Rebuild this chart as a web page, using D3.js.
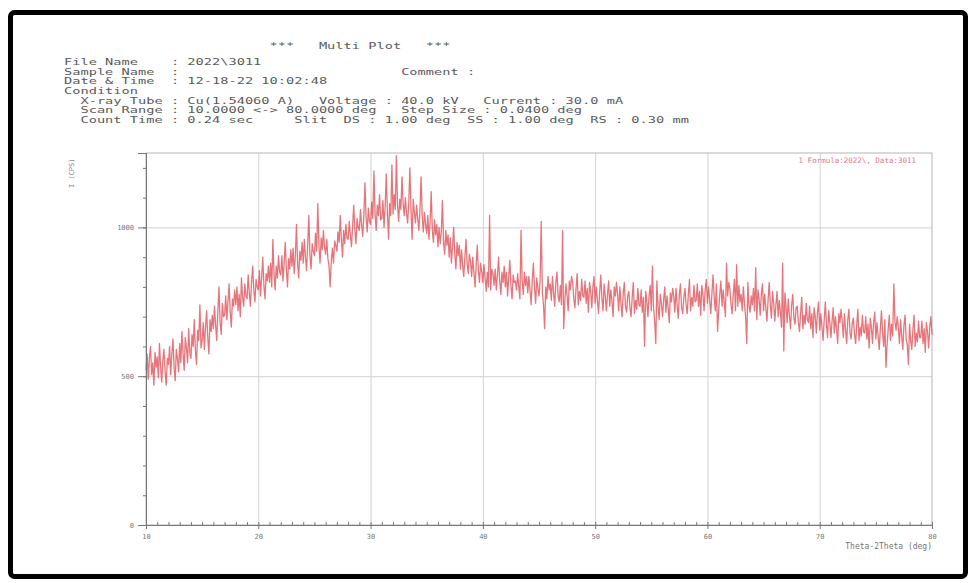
<!DOCTYPE html>
<html>
<head>
<meta charset="utf-8">
<script src="https://cdn.jsdelivr.net/npm/d3@7"></script>
<style>
  body { margin: 0; background: #fff; }
  .hdr { font-family: "DejaVu Sans Mono", "Liberation Mono", monospace; font-size: 8px; fill: #5a5a5a; white-space: pre; }
  .grid line { stroke: #d2d2d2; stroke-width: 1; }
  .grid path { stroke: none; }
  .axis path, .axis line { stroke: #777; }
  .axis text { font-family: "DejaVu Sans Mono", monospace; font-size: 7px; fill: #777; }
</style>
</head>
<body>
<div id="main_plot"></div>
<script>

// scan settings (deg)
var scanStart = 10, scanStep = 0.1;

// intensity (cps), 0.1 deg apart, one row per degree
var counts = [
  520, 575, 490, 560, 600, 505, 545, 470, 580, 530,   // 10
  565, 495, 610, 530, 480, 555, 590, 515, 470, 560,   // 11
  540, 600, 505, 575, 625, 530, 485, 590, 560, 515,   // 12
  610, 545, 650, 575, 520, 630, 595, 545, 660, 580,   // 13
  560, 640, 600, 690, 585, 540, 655, 620, 740, 595,   // 14
  620, 680, 590, 665, 720, 630, 575, 690, 650, 705,   // 15
  660, 735, 670, 620, 720, 800, 680, 640, 745, 700,   // 16
  705, 770, 690, 750, 810, 715, 665, 760, 735, 790,   // 17
  740, 800, 720, 775, 700, 830, 765, 735, 810, 770,   // 18
  760, 840, 780, 735, 815, 870, 790, 750, 825, 800,   // 19
  790, 855, 770, 830, 900, 805, 760, 845, 820, 870,   // 20
  815, 880, 800, 960, 845, 790, 870, 830, 905, 850,   // 21
  840, 905, 820, 880, 950, 860, 800, 895, 860, 925,   // 22
  870, 930, 845, 905, 1010, 880, 830, 920, 890, 950,  // 23
  880, 960, 900, 855, 940, 1040, 905, 860, 945, 920,  // 24
  905, 980, 920, 1080, 940, 880, 965, 925, 990, 935,  // 25
  910, 960, 895, 870, 800, 885, 930, 880, 955, 940,   // 26
  920, 985, 950, 1040, 960, 900, 990, 945, 1010, 965, // 27
  960, 1020, 975, 935, 1005, 1075, 990, 945, 1030, 1000, // 28
  990, 1060, 1010, 970, 1040, 1150, 1030, 985, 1065, 1020, // 29
  1010, 1085, 1030, 1190, 1045, 990, 1075, 1040, 1110, 1025, // 30
  1030, 1090, 1000, 1070, 1180, 1050, 960, 1080, 1040, 1210, // 31
  1045, 1110, 1060, 1240, 1075, 1020, 1095, 1060, 1170, 1080, // 32
  1040, 1100, 1050, 1015, 1080, 1200, 1060, 960, 1095, 1050,  // 33
  1015, 1075, 1030, 990, 1060, 1170, 1035, 985, 1050, 1010,   // 34
  980, 1040, 960, 1020, 1120, 990, 950, 1025, 975, 1010,      // 35
  935, 1000, 945, 985, 1090, 950, 910, 990, 940, 975,         // 36
  900, 965, 880, 935, 1000, 910, 860, 950, 905, 940,          // 37
  860, 925, 870, 835, 900, 960, 880, 845, 910, 885,           // 38
  835, 900, 850, 800, 870, 940, 855, 815, 880, 850,           // 39
  815, 875, 830, 785, 850, 800, 1040, 790, 860, 845,          // 40
  805, 860, 790, 840, 900, 820, 775, 850, 815, 870,           // 41
  800, 850, 770, 830, 890, 805, 760, 840, 815, 820,           // 42
  790, 845, 800, 760, 990, 820, 775, 850, 805, 835,           // 43
  780, 835, 790, 740, 820, 880, 800, 745, 830, 795,           // 44
  770, 825, 1020, 780, 740, 660, 800, 760, 835, 790,          // 45
  810, 755, 835, 780, 735, 815, 850, 770, 750, 805,           // 46
  740, 990, 660, 755, 810, 770, 720, 820, 790, 835,           // 47
  815, 760, 730, 795, 845, 740, 785, 755, 825, 770,           // 48
  765, 820, 745, 795, 715, 815, 785, 730, 800, 835,           // 49
  745, 800, 755, 710, 780, 840, 765, 720, 810, 770,           // 50
  720, 775, 820, 735, 790, 750, 700, 800, 770, 815,           // 51
  775, 720, 800, 745, 700, 780, 815, 735, 715, 770,           // 52
  785, 730, 700, 765, 815, 710, 755, 725, 795, 740,           // 53
  735, 790, 715, 765, 600, 785, 755, 700, 770, 805,           // 54
  720, 870, 730, 685, 610, 820, 735, 690, 775, 745,           // 55
  700, 755, 800, 715, 770, 730, 680, 780, 750, 795,           // 56
  770, 715, 795, 740, 695, 775, 810, 730, 710, 765,           // 57
  795, 740, 710, 775, 825, 720, 765, 735, 805, 750,           // 58
  755, 810, 735, 785, 705, 805, 775, 720, 790, 825,           // 59
  745, 800, 755, 710, 780, 840, 765, 720, 810, 650,           // 60
  720, 775, 820, 735, 790, 750, 700, 880, 770, 815,           // 61
  795, 740, 710, 775, 825, 720, 875, 735, 805, 750,           // 62
  775, 720, 800, 745, 700, 610, 815, 735, 715, 770,           // 63
  740, 795, 720, 865, 690, 790, 760, 705, 775, 810,           // 64
  720, 775, 730, 685, 755, 815, 740, 695, 785, 745,           // 65
  685, 740, 785, 700, 755, 715, 665, 880, 585, 780,           // 66
  735, 680, 760, 705, 660, 740, 775, 695, 675, 730,           // 67
  735, 680, 650, 715, 765, 660, 705, 675, 745, 690,           // 68
  680, 735, 660, 710, 630, 730, 700, 645, 715, 750,           // 69
  655, 710, 665, 620, 690, 750, 675, 630, 720, 680,           // 70
  630, 685, 730, 645, 700, 660, 610, 710, 680, 725,           // 71
  685, 630, 710, 655, 610, 690, 725, 645, 625, 680,           // 72
  695, 640, 610, 675, 725, 620, 665, 635, 705, 650,           // 73
  645, 700, 625, 675, 595, 695, 665, 610, 680, 715,           // 74
  625, 680, 635, 590, 660, 720, 645, 600, 690, 530,           // 75
  605, 660, 705, 620, 675, 635, 810, 685, 655, 700,           // 76
  665, 610, 690, 635, 590, 670, 705, 625, 605, 540,           // 77
  675, 620, 590, 655, 705, 600, 645, 615, 685, 630,           // 78
  630, 685, 610, 660, 580, 680, 650, 595, 665, 700,           // 79
  640                                                          // 80
];

// axis ticks and labels
var xMajor = [10, 20, 30, 40, 50, 60, 70, 80];
var xGrid = [20, 30, 40, 50, 60, 70];
var yMajor = [0, 500, 1000];
var yGrid = [500, 1000];
var xTitle = "Theta-2Theta (deg)";
var yTitle = "I (CPS)";
var legendText = "1 Formula:2022\\, Data:3011";
var plotTitle = "                         ***   Multi Plot   ***";

// header block, one fixed-width line per row
var headerText = [
  "File Name    : 2022\\3011",
  "Sample Name  :                           Comment :",
  "Date & Time  : 12-18-22 10:02:48",
  "Condition",
  "  X-ray Tube : Cu(1.54060 A)   Voltage : 40.0 kV   Current : 30.0 mA",
  "  Scan Range : 10.0000 <-> 80.0000 deg   Step Size : 0.0400 deg",
  "  Count Time : 0.24 sec     Slit  DS : 1.00 deg  SS : 1.00 deg  RS : 0.30 mm"
];

// set the dimensions and margins of the graph
var margin = {top: 153, right: 41, bottom: 58, left: 146},
    width = 973 - margin.left - margin.right,
    height = 583 - margin.top - margin.bottom;

var root = d3.select("div#main_plot")
  .append("svg")
  .attr("width", 973)
  .attr("height", 583);

// black frame round the page
root.append("rect")
  .attr("x", 10.5).attr("y", 12.5)
  .attr("width", 955).attr("height", 564)
  .attr("rx", 4)
  .attr("fill", "none")
  .attr("stroke", "#000")
  .attr("stroke-width", 5);

// title and header block (printer font is wide, so stretch it)
var hdr = root.append("g")
  .attr("transform", "translate(64,0) scale(1.71,1)");

hdr.append("text")
  .attr("class", "hdr")
  .attr("y", 49)
  .text(plotTitle);

hdr.selectAll("text.row")
  .data(headerText)
  .enter().append("text")
    .attr("class", "hdr row")
    .attr("y", function(d, i) { return 65 + i * 9.7; })
    .text(function(d) { return d; });

var svg = root.append("g")
  .attr("transform", "translate(" + margin.left + "," + margin.top + ")");

// define the x Axis
var x = d3.scaleLinear()
  .domain([10, 80])
  .range([0, width]);

// define the y Axis
var y = d3.scaleLinear()
  .domain([0, 1250])
  .range([height, 0]);

// add the X gridlines
svg.append("g")
  .attr("class", "grid")
  .attr("transform", "translate(0," + height + ")")
  .call(d3.axisBottom(x).tickValues(xGrid).tickSize(-height).tickFormat(""));

// add the Y gridlines
svg.append("g")
  .attr("class", "grid")
  .call(d3.axisLeft(y).tickValues(yGrid).tickSize(-width).tickFormat(""));

// plot border
svg.append("rect")
  .attr("width", width).attr("height", height)
  .attr("fill", "none")
  .attr("stroke", "#b5b5b5");

// the scan
svg.append("path")
  .datum(counts)
  .attr("fill", "none")
  .attr("stroke", "#e0525a")
  .attr("stroke-width", 1.3)
  .attr("stroke-opacity", 0.8)
  .attr("stroke-linejoin", "round")
  .attr("d", d3.line()
    .x(function(d, i) { return x(scanStart + i * scanStep); })
    .y(function(d) { return y(d); }));

// minor ticks on the X axis
svg.append("g")
  .attr("class", "axis")
  .attr("transform", "translate(0," + height + ")")
  .call(d3.axisBottom(x).ticks(70).tickSizeInner(-3).tickSizeOuter(0).tickFormat(""));

// add the X axis
svg.append("g")
  .attr("class", "axis")
  .attr("transform", "translate(0," + height + ")")
  .call(d3.axisBottom(x).tickValues(xMajor).tickSize(4).tickPadding(5).tickFormat(d3.format("d")));

// minor ticks on the Y axis
svg.append("g")
  .attr("class", "axis")
  .call(d3.axisLeft(y).ticks(12).tickSizeInner(3).tickSizeOuter(0).tickFormat(""));

// add the Y axis
svg.append("g")
  .attr("class", "axis")
  .call(d3.axisLeft(y).tickValues(yMajor).tickSize(8).tickPadding(4).tickFormat(d3.format("d")));

// axis titles and legend
svg.append("text")
  .attr("x", width).attr("y", height + 24)
  .attr("text-anchor", "end")
  .attr("font-family", "DejaVu Sans Mono, monospace")
  .attr("font-size", 8)
  .attr("fill", "#777")
  .text(xTitle);

svg.append("text")
  .attr("transform", "translate(" + (-72) + ",35) rotate(-90)")
  .attr("font-family", "DejaVu Sans Mono, monospace")
  .attr("font-size", 7)
  .attr("fill", "#888")
  .text(yTitle);

svg.append("text")
  .attr("x", width - 16).attr("y", 10)
  .attr("text-anchor", "end")
  .attr("font-family", "DejaVu Sans Mono, monospace")
  .attr("font-size", 7.5)
  .attr("fill", "#e07a88")
  .text(legendText);

</script>
</body>
</html>
